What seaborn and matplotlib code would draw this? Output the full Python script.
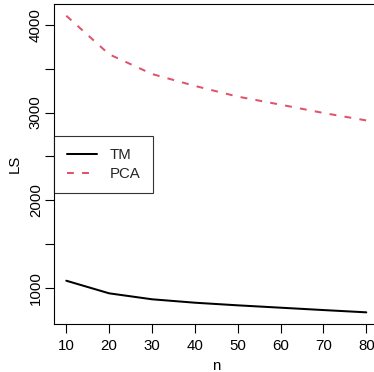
import matplotlib
matplotlib.use("Agg")
import matplotlib.pyplot as plt
import seaborn as sns
import pandas as pd

n = [10, 20, 30, 40, 50, 60, 70, 80]
tm = [1080, 936, 868, 829, 799, 772, 745, 719]
pca = [4105, 3665, 3440, 3304, 3182, 3090, 2995, 2910]
series_names = ["TM", "PCA"]
x_ticks = [10, 20, 30, 40, 50, 60, 70, 80]
y_ticks = [1000, 1500, 2000, 2500, 3000, 3500, 4000]
y_tick_labels = ["1000", "", "2000", "", "3000", "", "4000"]

sns.set_theme(style="white")
plt.rcParams["font.family"] = ["Liberation Sans", "DejaVu Sans"]

df = pd.DataFrame({"n": n + n, "LS": tm + pca,
                   "method": [series_names[0]] * len(n) + [series_names[1]] * len(n)})

fig = plt.figure(figsize=(3.74, 3.72), dpi=100)
ax = fig.add_axes([54.3 / 374, (372 - 324.2) / 372, 324 / 374, 320.3 / 372])

lw = 1.45
sns.lineplot(data=df[df.method == "TM"], x="n", y="LS", ax=ax, color="black",
             linewidth=lw, label="TM")
sns.lineplot(data=df[df.method == "PCA"], x="n", y="LS", ax=ax, color="#DF536B",
             linewidth=lw, label="PCA", dashes=False)
ax.lines[1].set_dashes((3.4, 4.1))

ymin, ymax = min(tm + pca), max(tm + pca)
pad = (ymax - ymin) * 0.04
ax.set_ylim(ymin - pad, ymax + pad)
ax.set_xlim(10 - 70 * 0.04, 80 + 70 * 0.04)

ax.set_xticks(x_ticks)
ax.set_xticklabels([str(v) for v in x_ticks])
ax.set_yticks(y_ticks)
ax.set_yticklabels(y_tick_labels, rotation=90, va="center")

fs = 10.8
ax.tick_params(axis="both", which="major", length=6.7, width=0.8, color="black",
               labelsize=fs, labelcolor="black", direction="out", bottom=True, left=True)
ax.tick_params(axis="x", pad=4.0)
ax.tick_params(axis="y", pad=1.5)

for s in ax.spines.values():
    s.set_color("black")
    s.set_linewidth(0.8)
    s.set_visible(True)

ax.set_xlabel("n", fontsize=fs, color="black", labelpad=4)
ax.set_ylabel("LS", fontsize=fs, color="black", labelpad=5)

leg = ax.legend(loc="upper left", bbox_to_anchor=(0, (324.2 - 135.7) / 320.3),
                frameon=True, fancybox=False, fontsize=fs, handlelength=2.0,
                handletextpad=0.9, borderpad=0.82, labelspacing=0.33,
                borderaxespad=0)
leg.get_frame().set_edgecolor("black")
leg.get_frame().set_linewidth(0.8)

fig.savefig("out.png", dpi=100)
